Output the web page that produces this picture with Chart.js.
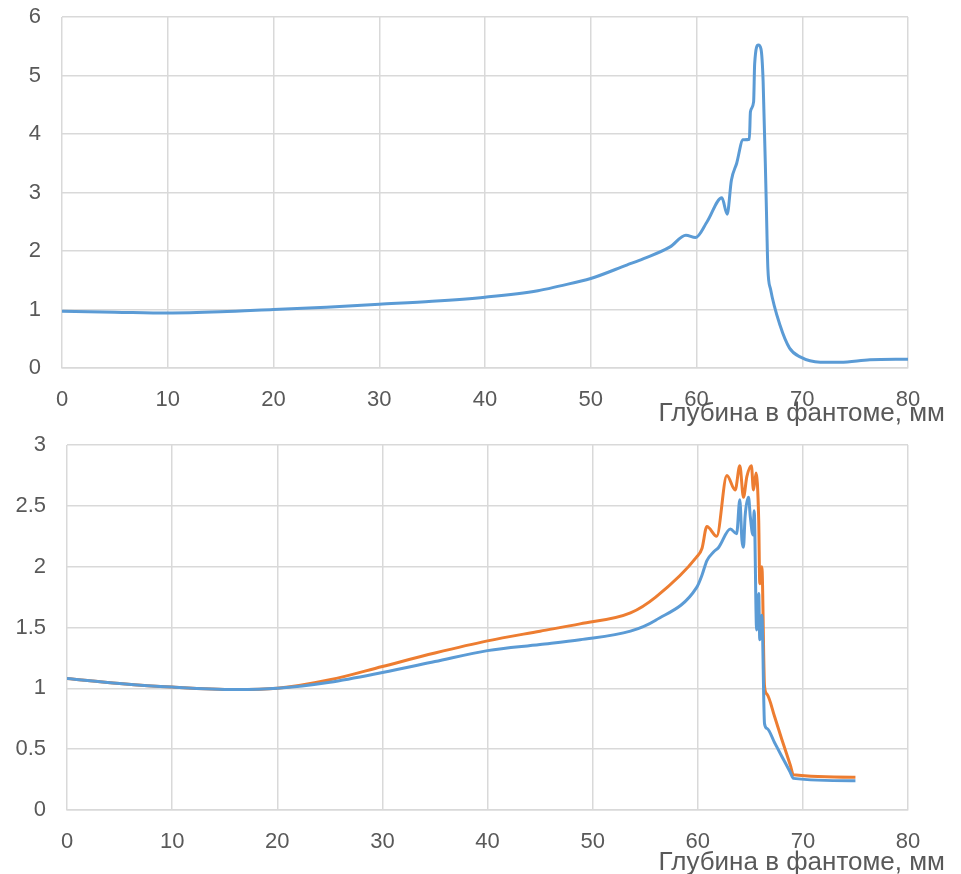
<!DOCTYPE html>
<html>
<head>
<meta charset="utf-8">
<script src="https://cdn.jsdelivr.net/npm/chart.js@4"></script>
<style>
  body { margin: 0; background: #fff; width: 961px; height: 874px; position: relative; overflow: hidden; }
  canvas { position: absolute; left: 0; }
  #top { top: 0; }
  #bottom { top: 430px; }
  .axis-title {
    position: absolute; right: 16px;
    font-family: "Liberation Sans", Arial, sans-serif;
    font-size: 26px; line-height: 1; color: #595959; white-space: nowrap;
  }
</style>
</head>
<body>
<canvas id="top" width="961" height="430"></canvas>
<canvas id="bottom" width="961" height="444"></canvas>
<div class="axis-title" style="top: 399px">Глубина в фантоме, мм</div>
<div class="axis-title" style="top: 848px">Глубина в фантоме, мм</div>
<script>
// top chart: single depth-dose curve
const depthTop = [0, 5, 10, 15, 20, 25, 30, 35, 40, 45, 47, 50, 53.4, 55, 57.5, 59.0, 59.9, 61, 62.4, 62.9, 63.3, 63.8, 64.4, 65.0, 65.1, 65.4, 65.5, 65.85, 66.1, 66.3, 66.6, 66.75, 67.0, 67.9, 68.8, 69.8, 71.7, 73.6, 76.4, 80]
const doseTop = [0.97, 0.955, 0.94, 0.96, 1.0, 1.04, 1.09, 1.14, 1.21, 1.32, 1.40, 1.53, 1.76, 1.87, 2.07, 2.27, 2.23, 2.5, 2.91, 2.63, 3.21, 3.5, 3.9, 3.91, 4.38, 4.55, 5.2, 5.52, 5.45, 4.9, 2.8, 1.7, 1.35, 0.73, 0.34, 0.19, 0.10, 0.10, 0.14, 0.15]

// bottom chart: two curves
const depthBlue = [0, 5, 10, 16, 20, 25, 30, 35, 40, 45, 48.8, 53.6, 56, 59.9, 60.4, 60.87, 61.5, 62, 63.1, 63.7, 64.0, 64.2, 64.35, 64.5, 64.83, 65.0, 65.25, 65.37, 65.6, 65.8, 65.9, 66.1, 66.35, 66.6, 67.3, 68.0, 68.8, 69.1, 75]
const doseBlue = [1.08, 1.04, 1.01, 0.99, 1.0, 1.05, 1.13, 1.22, 1.31, 1.36, 1.40, 1.47, 1.56, 1.83, 1.93, 2.05, 2.12, 2.16, 2.31, 2.27, 2.55, 2.22, 2.16, 2.41, 2.57, 2.41, 2.26, 2.46, 1.48, 1.78, 1.40, 1.6, 0.71, 0.67, 0.555, 0.44, 0.31, 0.26, 0.24]
const depthOrange = [0, 5, 10, 16, 20, 25, 30, 35, 40, 45, 48.8, 53.6, 56, 59.9, 60.4, 60.87, 61.8, 62.77, 63.56, 64.0, 64.35, 64.67, 65.1, 65.3, 65.55, 65.8, 65.9, 66.1, 66.35, 66.6, 67.3, 68.0, 68.8, 69.1, 75]
const doseOrange = [1.08, 1.04, 1.01, 0.99, 1.0, 1.07, 1.18, 1.29, 1.39, 1.47, 1.53, 1.62, 1.75, 2.08, 2.15, 2.33, 2.25, 2.75, 2.63, 2.83, 2.57, 2.74, 2.83, 2.63, 2.77, 2.38, 1.86, 2.0, 1.02, 0.95, 0.77, 0.58, 0.37, 0.29, 0.27]

const xTicks = [0, 10, 20, 30, 40, 50, 60, 70, 80]

const font = { family: "'Liberation Sans', Arial, sans-serif", size: 22 }
const gridColor = '#d9d9d9'

function points(xs, ys) {
  return xs.map((x, i) => ({ x: x, y: ys[i] }))
}

function line(data, color) {
  return {
    data: data,
    borderColor: color,
    borderWidth: 3,
    pointRadius: 0,
    cubicInterpolationMode: 'monotone',
    fill: false
  }
}

function makeChart(id, datasets, yMax, yStep, yWidth, xHeight, padTop) {
  return new Chart(document.getElementById(id), {
    type: 'line',
    data: { datasets: datasets },
    options: {
      responsive: false,
      animation: false,
      layout: { padding: { top: padTop, right: 53, left: 0, bottom: 0 } },
      plugins: { legend: { display: false }, tooltip: { enabled: false } },
      scales: {
        x: {
          type: 'linear',
          min: 0,
          max: 80,
          afterBuildTicks: (scale) => { scale.ticks = xTicks.map(v => ({ value: v })) },
          afterFit: (scale) => {
            scale.height = xHeight
            scale.paddingLeft = 0
            scale.paddingRight = 0
          },
          ticks: { color: '#595959', font: font, padding: 19, autoSkip: false, maxRotation: 0 },
          grid: { color: gridColor, lineWidth: 1.5, drawTicks: false },
          border: { color: gridColor, width: 1.5 }
        },
        y: {
          min: 0,
          max: yMax,
          afterFit: (scale) => {
            scale.width = yWidth
            scale.paddingTop = 0
            scale.paddingBottom = 0
          },
          ticks: { stepSize: yStep, color: '#595959', font: font, padding: 21, callback: (v) => String(v) },
          grid: { color: gridColor, lineWidth: 1.5, drawTicks: false },
          border: { display: false }
        }
      }
    }
  })
}

makeChart('top', [line(points(depthTop, doseTop), '#5b9bd5')], 6, 1, 62, 62, 17)
makeChart('bottom', [
  line(points(depthBlue, doseBlue), '#5b9bd5'),
  line(points(depthOrange, doseOrange), '#ed7d31')
], 3, 0.5, 67, 64, 15)
</script>
</body>
</html>
